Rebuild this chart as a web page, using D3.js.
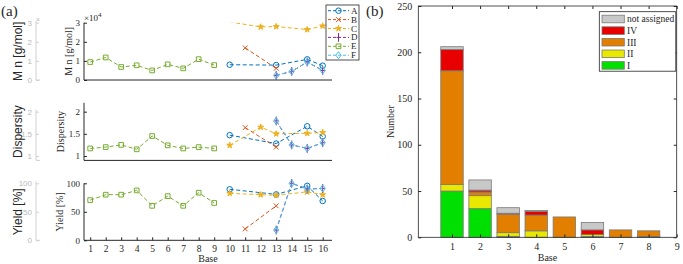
<!DOCTYPE html>
<html lang="en">
<head>
<meta charset="UTF-8">
<title>Mn, dispersity, yield and class counts by base</title>
<script src="https://d3js.org/d3.v7.min.js"></script>
<style>
  body { margin: 0; background: #fff; }
  svg { display: block; }
  .serif { font-family: 'Liberation Serif', 'DejaVu Serif', serif; fill: #262626; }
  .sans { font-family: 'Liberation Sans', Arial, sans-serif; fill: #262626; }
  .ghost text { font-family: 'Liberation Sans', Arial, sans-serif; fill: #b8b8b8; font-size: 8px; }
  .ghost line, .ghost path { stroke: #d0d0d0; }
</style>
</head>
<body>
<div id="chart"></div>
<script>
// ---- panel (a) data: Mn [g/mol], dispersity, yield [%] per base ----
const baseTicks = [1, 2, 3, 4, 5, 6, 7, 8, 9, 10, 11, 12, 13, 14, 15, 16];

const baseA = [10, 13, 15, 16];
const mnA = [8000, 7800, 10800, 7500];
const dispA = [1.47, 1.28, 1.67, 1.44];
const yieldA = [89.5, 80.5, 95.5, 69];

const baseB = [11, 13];
const mnB = [16800, 6100];
const dispB = [1.64, 1.20];
const yieldB = [20, 60.5];

const baseC = [10, 12, 13, 15, 16];
const mnC = [30400, 27800, 28000, 26400, 28300];
const dispC = [1.24, 1.65, 1.50, 1.51, 1.53];
const yieldC = [82.5, 80, 79, 85, 80];

const baseD = [13, 14, 15, 16];
const mnD = [2400, 4500, 9400, 5000];
const dispD = [1.79, 1.25, 1.17, 1.30];
const yieldD = [18, 100, 90, 91];

const baseE = [1, 2, 3, 4, 5, 6, 7, 8, 9];
const mnE = [9400, 11800, 6800, 7700, 5000, 8200, 6100, 10900, 7800];
const dispE = [1.17, 1.20, 1.25, 1.15, 1.45, 1.24, 1.17, 1.20, 1.17];
const yieldE = [70.5, 80, 80, 87.5, 60.5, 77.5, 60.5, 83.5, 65.5];

const baseF = [13, 14, 15, 16];
const mnF = [2400, 4500, 9400, 5000];
const dispF = [1.79, 1.25, 1.17, 1.30];
const yieldF = [18, 100, 90, 91];

const mnTicks = [0, 10000, 20000, 30000];
const dispTicks = [1, 1.5, 2];
const yieldTicks = [0, 50, 100];

// ---- panel (b) data: counts per base and class ----
const barBases = [1, 2, 3, 4, 5, 6, 7, 8, 9];
const classI = [50, 31, 1, 0, 0, 1, 0, 1, 0];
const classII = [7, 14, 4, 7, 0, 2, 0, 0, 0];
const classIII = [123, 4, 20, 17, 22, 0, 8, 6, 0];
const classIV = [23, 2, 1, 4, 0, 5, 0, 0, 0];
const notAssigned = [3, 11, 6, 1, 0, 8, 0, 0, 0];
const numberTicks = [0, 50, 100, 150, 200, 250];

// styles
const colors = { A: "#0072BD", B: "#D95319", C: "#EDB120", D: "#7E2F8E", E: "#77AC30", F: "#4DBEEE" };
const markers = { A: "circle", B: "times", C: "star", D: "plus", E: "square", F: "diamond" };
const classColors = { I: "#00e000", II: "#e8e800", III: "#e37f00", IV: "#e60000", NA: "#c8c8c8" };

const series = [
  { name: "A", base: baseA, mn: mnA, disp: dispA, yld: yieldA },
  { name: "B", base: baseB, mn: mnB, disp: dispB, yld: yieldB },
  { name: "C", base: baseC, mn: mnC, disp: dispC, yld: yieldC },
  { name: "D", base: baseD, mn: mnD, disp: dispD, yld: yieldD },
  { name: "E", base: baseE, mn: mnE, disp: dispE, yld: yieldE },
  { name: "F", base: baseF, mn: mnF, disp: dispF, yld: yieldF }
];

const svg = d3.select("#chart").append("svg")
  .attr("width", 683).attr("height", 264);

function markerPath(type) {
  switch (type) {
    case "circle": return d3.symbol(d3.symbolCircle, 24)();
    case "square": return d3.symbol(d3.symbolSquare, 22)();
    case "star": return d3.symbol(d3.symbolStar, 11)();
    case "diamond": return "M0,-3.6L2.6,0L0,3.6L-2.6,0Z";
    case "times": return "M-2.4,-2.4L2.4,2.4M-2.4,2.4L2.4,-2.4";
    case "plus": return "M0,-4.4L0,4.4M-2,0L2,0";
  }
}
function drawMarker(g, type, color, x, y) {
  g.append("path")
    .attr("d", markerPath(type))
    .attr("transform", `translate(${x},${y})`)
    .attr("fill", type === "star" ? color : "none")
    .attr("stroke", color)
    .attr("stroke-width", 1);
}

// ================= panel (a) =================
const xA = d3.scaleLinear().domain([0.6, 16.6]).range([84, 332]);

const panels = [
  { key: "mn", domain: [0, 30000], range: [80, 22.7], ticks: mnTicks, fmt: d => d / 10000,
    label: "M n [g/mol]", labelX: 72 },
  { key: "disp", domain: [0.9, 2.2], range: [160.4, 102.8], ticks: dispTicks, fmt: d => d,
    label: "Dispersity", labelX: 64 },
  { key: "yld", domain: [0, 100], range: [240.3, 183.3], ticks: yieldTicks, fmt: d => d,
    label: "Yield [%]", labelX: 63 }
];

panels.forEach((p, i) => {
  const y = d3.scaleLinear().domain(p.domain).range(p.range);
  const top = Math.min(...p.range), bottom = Math.max(...p.range);

  // faint outer axis
  const ghost = svg.append("g").attr("class", "ghost").attr("transform", "translate(36,0)")
    .call(d3.axisLeft(y).tickValues(p.ticks).tickFormat(p.fmt).tickSize(-3).tickPadding(4));
  ghost.select(".domain").remove();
  ghost.append("line").attr("x1", 0).attr("x2", 0).attr("y1", y(p.ticks[p.ticks.length - 1]) - 2).attr("y2", bottom);
  ghost.append("line").attr("x1", 0).attr("x2", 4).attr("y1", bottom).attr("y2", bottom);
  if (p.key === "mn") {
    svg.append("text").attr("x", 36).attr("y", 22).attr("font-size", 7)
      .style("fill", "#b8b8b8").attr("class", "sans").text("×");
  }
  svg.append("text").attr("class", "sans")
    .attr("transform", `translate(22,${(top + bottom) / 2}) rotate(-90)`)
    .attr("text-anchor", "middle").attr("font-size", 12)
    .text(p.label);

  // inner axis
  const ax = svg.append("g").attr("transform", "translate(84,0)")
    .call(d3.axisLeft(y).tickValues(p.ticks).tickFormat(p.fmt).tickSize(-3).tickPadding(4));
  ax.select(".domain").remove();
  ax.selectAll("line").attr("stroke", "#262626");
  ax.selectAll("text").attr("font-size", 9).style("font-family", "'Liberation Serif', serif").attr("fill", "#262626");
  svg.append("line").attr("x1", 84).attr("x2", 84).attr("y1", top).attr("y2", bottom)
    .attr("stroke", "#262626").attr("stroke-width", 1);
  svg.append("line").attr("x1", 84).attr("x2", 332).attr("y1", bottom).attr("y2", bottom)
    .attr("stroke", "#262626").attr("stroke-width", 1);

  svg.append("text").attr("class", "serif")
    .attr("transform", `translate(${p.labelX},${(top + bottom) / 2}) rotate(-90)`)
    .attr("text-anchor", "middle").attr("font-size", 10)
    .text(p.label);

  if (p.key === "mn") {
    const ex = svg.append("text").attr("class", "serif").attr("x", 84).attr("y", 21).attr("font-size", 9);
    ex.append("tspan").text("×10");
    ex.append("tspan").attr("dy", -4).attr("font-size", 7).text("4");
  }

  if (p.key === "yld") {
    const xa = svg.append("g").attr("transform", `translate(0,${bottom})`)
      .call(d3.axisBottom(xA).tickValues(baseTicks).tickSize(-3).tickPadding(5));
    xa.select(".domain").remove();
    xa.selectAll("line").attr("stroke", "#262626");
    xa.selectAll("text").attr("font-size", 9.5).style("font-family", "'Liberation Serif', serif").attr("fill", "#262626");
    svg.append("text").attr("class", "serif").attr("x", 208).attr("y", 262)
      .attr("text-anchor", "middle").attr("font-size", 10).text("Base");
  }

  // series
  const clipId = "clip" + i;
  svg.append("clipPath").attr("id", clipId).append("rect")
    .attr("x", 84).attr("y", top).attr("width", 248).attr("height", bottom - top);
  const g = svg.append("g");
  series.forEach(s => {
    const pts = s.base.map((b, j) => [b, s[p.key][j]]);
    g.append("path")
      .attr("clip-path", `url(#${clipId})`)
      .attr("d", d3.line().x(d => xA(d[0])).y(d => y(d[1]))(pts))
      .attr("fill", "none").attr("stroke", colors[s.name])
      .attr("stroke-width", 1).attr("stroke-dasharray", "4,2.5");
    pts.filter(d => d[1] >= p.domain[0] && d[1] <= p.domain[1])
      .forEach(d => drawMarker(g, markers[s.name], colors[s.name], xA(d[0]), y(d[1])));
  });
});

// legend (a)
const legA = svg.append("g");
legA.append("rect").attr("x", 326).attr("y", 5).attr("width", 33).attr("height", 55)
  .attr("fill", "#fff").attr("stroke", "#262626").attr("stroke-width", 0.8);
series.forEach((s, i) => {
  const ly = 10.7 + i * 8.9;
  legA.append("line").attr("x1", 328).attr("x2", 349).attr("y1", ly).attr("y2", ly)
    .attr("stroke", colors[s.name]).attr("stroke-dasharray", "3,2");
  drawMarker(legA, markers[s.name], colors[s.name], 338.5, ly);
  legA.append("text").attr("class", "serif").attr("x", 351).attr("y", ly + 3)
    .attr("font-size", 9).text(s.name);
});

svg.append("text").attr("class", "serif").attr("x", 1).attr("y", 16).attr("font-size", 15).text("(a)");

// ================= panel (b) =================
const L = 418.3, R = 676.7, T = 6, B = 237.3;
const xB = d3.scaleLinear().domain([-0.2, 9]).range([L, R]);
const yB = d3.scaleLinear().domain([0, 250]).range([B, T]);

const keys = ["I", "II", "III", "IV", "NA"];
const table = barBases.map((b, i) => ({
  base: b, I: classI[i], II: classII[i], III: classIII[i], IV: classIV[i], NA: notAssigned[i]
}));
const stacked = d3.stack().keys(keys)(table);
const bw = xB(0.8) - xB(0);

stacked.forEach(layer => {
  svg.append("g").selectAll("rect")
    .data(layer.filter(d => d[1] > d[0]))
    .enter().append("rect")
    .attr("x", d => xB(d.data.base) - bw / 2)
    .attr("y", d => yB(d[1]))
    .attr("width", bw)
    .attr("height", d => yB(d[0]) - yB(d[1]))
    .attr("fill", classColors[layer.key])
    .attr("stroke", "#7a7a7a").attr("stroke-width", 0.8);
});

const yAxB = svg.append("g").attr("transform", `translate(${L},0)`)
  .call(d3.axisLeft(yB).tickValues(numberTicks).tickSize(-3).tickPadding(6));
yAxB.select(".domain").remove();
yAxB.selectAll("line").attr("stroke", "#262626");
yAxB.selectAll("text").attr("font-size", 10).style("font-family", "'Liberation Serif', serif").attr("fill", "#262626");
const yAxB2 = svg.append("g").attr("transform", `translate(${R},0)`)
  .call(d3.axisRight(yB).tickValues(numberTicks).tickSize(-3).tickFormat(""));
yAxB2.select(".domain").remove();
yAxB2.selectAll("line").attr("stroke", "#262626");

const xAxB = svg.append("g").attr("transform", `translate(0,${B})`)
  .call(d3.axisBottom(xB).tickValues(barBases).tickSize(-3).tickPadding(6));
xAxB.select(".domain").remove();
xAxB.selectAll("line").attr("stroke", "#262626");
xAxB.selectAll("text").attr("font-size", 10).style("font-family", "'Liberation Serif', serif").attr("fill", "#262626");
const xAxB2 = svg.append("g").attr("transform", `translate(0,${T})`)
  .call(d3.axisTop(xB).tickValues(barBases).tickSize(-3).tickFormat(""));
xAxB2.select(".domain").remove();
xAxB2.selectAll("line").attr("stroke", "#262626");

svg.append("rect").attr("x", L).attr("y", T).attr("width", R - L).attr("height", B - T)
  .attr("fill", "none").attr("stroke", "#262626").attr("stroke-width", 0.8);

svg.append("text").attr("class", "serif")
  .attr("transform", `translate(394,${(T + B) / 2}) rotate(-90)`)
  .attr("text-anchor", "middle").attr("font-size", 10).text("Number");
svg.append("text").attr("class", "serif").attr("x", (L + R) / 2).attr("y", 261)
  .attr("text-anchor", "middle").attr("font-size", 10).text("Base");
svg.append("text").attr("class", "serif").attr("x", 366).attr("y", 16).attr("font-size", 15).text("(b)");

// legend (b)
const legendLabels = { NA: "not assigned", IV: "IV", III: "III", II: "II", I: "I" };
const legB = svg.append("g");
legB.append("rect").attr("x", 599.3).attr("y", 11.7).attr("width", 76.5).attr("height", 59.5)
  .attr("fill", "#fff").attr("stroke", "#262626").attr("stroke-width", 0.8);
["NA", "IV", "III", "II", "I"].forEach((k, i) => {
  const ly = 19 + i * 11.6;
  legB.append("rect").attr("x", 602).attr("y", ly - 3.8).attr("width", 22.3).attr("height", 7.6)
    .attr("fill", classColors[k]).attr("stroke", "#7a7a7a").attr("stroke-width", 0.8);
  legB.append("text").attr("class", "serif").attr("x", 627).attr("y", ly + 3.3)
    .attr("font-size", 9.5).text(legendLabels[k]);
});
</script>
</body>
</html>
